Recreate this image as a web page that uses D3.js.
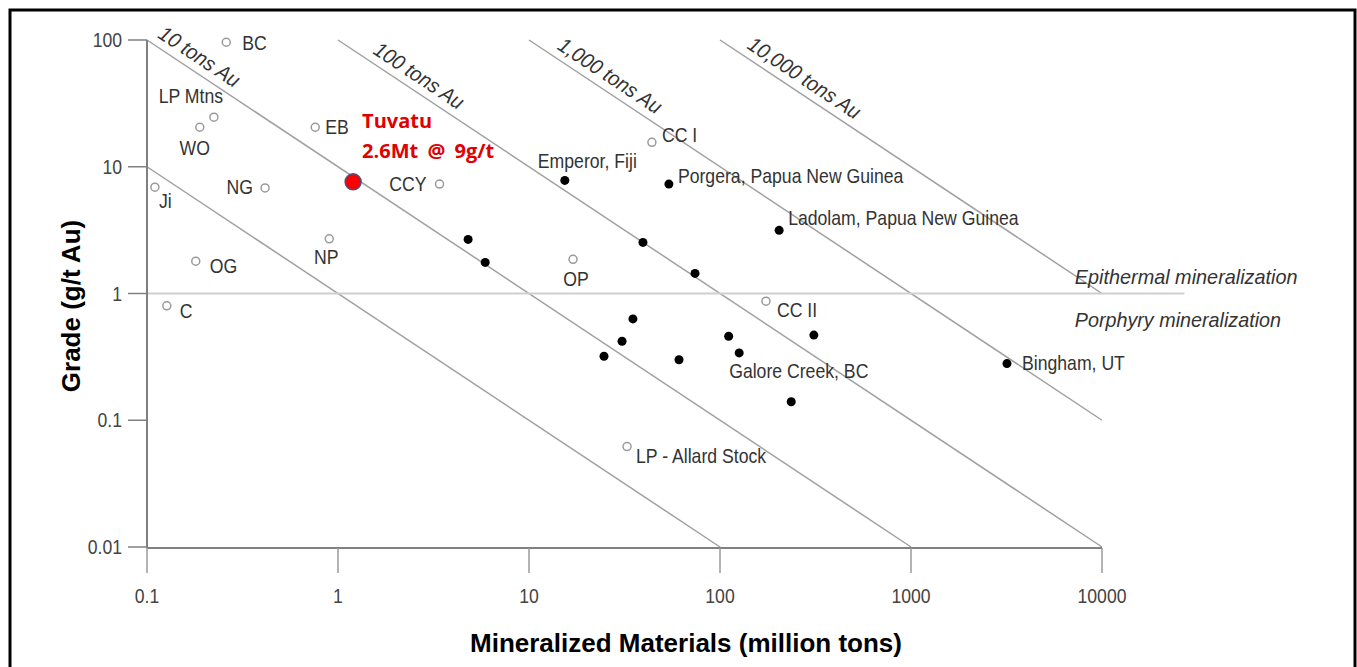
<!DOCTYPE html>
<html>
<head>
<meta charset="utf-8">
<script src="https://cdn.jsdelivr.net/npm/d3@7"></script>
<style>
  html, body { margin: 0; background: #fff; }
  svg { display: block; }
</style>
</head>
<body>
<svg id="chart" width="1357" height="667"></svg>
<script>
// ── Datos ────────────────────────────────────────────────────────
const X_TICKS = [0.1, 1, 10, 100, 1000, 10000];
const Y_TICKS = [0.01, 0.1, 1, 10, 100];

// contained gold = tonnage (Mt) x grade (g/t)
const CONTOURS       = [1, 10, 100, 1000, 10000];
const CONTOUR_LABELS = ["", "10 tons Au", "100 tons Au", "1,000 tons Au", "10,000 tons Au"];
const CONTOUR_LBL_MT = [null, 0.17, 2.4, 24, 250];

const DIVIDER_GRADE = 1;
const DIVIDER_MT    = [0.1, 27000];

const OPEN_DEPOSITS = [
  { name: "BC",               mt: 0.26,  grade: 96 },
  { name: "LP Mtns",          mt: 0.224, grade: 24.6 },
  { name: "WO",               mt: 0.189, grade: 20.5 },
  { name: "EB",               mt: 0.76,  grade: 20.5 },
  { name: "NG",               mt: 0.415, grade: 6.8 },
  { name: "Ji",               mt: 0.11,  grade: 6.9 },
  { name: "CCY",              mt: 3.4,   grade: 7.3 },
  { name: "NP",               mt: 0.9,   grade: 2.7 },
  { name: "OG",               mt: 0.18,  grade: 1.8 },
  { name: "C",                mt: 0.127, grade: 0.8 },
  { name: "CC I",             mt: 44,    grade: 15.6 },
  { name: "OP",               mt: 17,    grade: 1.86 },
  { name: "CC II",            mt: 174,   grade: 0.87 },
  { name: "LP - Allard Stock", mt: 32.6, grade: 0.062 }
];

const FILLED_DEPOSITS = [
  { name: "Emperor, Fiji",             mt: 15.4, grade: 7.8 },
  { name: "Porgera, Papua New Guinea", mt: 54,   grade: 7.3 },
  { name: "Ladolam, Papua New Guinea", mt: 204,  grade: 3.15 },
  { name: "",                          mt: 4.8,  grade: 2.67 },
  { name: "",                          mt: 5.9,  grade: 1.76 },
  { name: "",                          mt: 39.5, grade: 2.53 },
  { name: "",                          mt: 74,   grade: 1.44 },
  { name: "",                          mt: 35,   grade: 0.63 },
  { name: "",                          mt: 30.7, grade: 0.42 },
  { name: "",                          mt: 24.7, grade: 0.32 },
  { name: "",                          mt: 61,   grade: 0.30 },
  { name: "",                          mt: 111,  grade: 0.46 },
  { name: "Galore Creek, BC",          mt: 126,  grade: 0.34 },
  { name: "",                          mt: 310,  grade: 0.47 },
  { name: "",                          mt: 236,  grade: 0.14 },
  { name: "Bingham, UT",               mt: 3180, grade: 0.28 }
];

const TUVATU = { mt: 1.2, grade: 7.6, lines: ["Tuvatu", "2.6Mt @ 9g/t"] };

// ── Estilo de etiquetas (dx, dy, anchor) ─────────────────────────
const LABEL_POS = {
  "BC": [16, 8, "start"],
  "LP Mtns": [-23, -14, "middle"],
  "WO": [-5, 28, "middle"],
  "EB": [10, 7, "start"],
  "NG": [-12, 6, "end"],
  "Ji": [4, 21, "start"],
  "CCY": [-13, 7, "end"],
  "NP": [-3, 25, "middle"],
  "OG": [14, 12, "start"],
  "C": [13, 12, "start"],
  "CC I": [10, 0, "start"],
  "OP": [3, 27, "middle"],
  "CC II": [11, 16, "start"],
  "LP - Allard Stock": [9, 16, "start"],
  "Emperor, Fiji": [-27, -12, "start"],
  "Porgera, Papua New Guinea": [9, -1, "start"],
  "Ladolam, Papua New Guinea": [9, -5, "start"],
  "Galore Creek, BC": [-10, 25, "start"],
  "Bingham, UT": [15, 6, "start"]
};

const LBL_FONT  = "'Liberation Sans',Arial,sans-serif";
const BOLD_FONT = "'Liberation Sans',Arial,sans-serif";

// squeeze text horizontally (the source uses a condensed face)
function squeeze(sel, k) {
  sel.each(function() {
    const w = this.getComputedTextLength();
    d3.select(this).attr("textLength", w * k).attr("lengthAdjust", "spacingAndGlyphs");
  });
}

// ── Escalas ──────────────────────────────────────────────────────
const svg = d3.select("#chart");
const x = d3.scaleLog().domain([0.1, 10000]).range([147, 1102]);
const y = d3.scaleLog().domain([0.01, 100]).range([547, 40]);

// marco
svg.append("rect")
  .attr("x", 10).attr("y", 10).attr("width", 1345).attr("height", 700)
  .attr("fill", "none").attr("stroke", "#000").attr("stroke-width", 3);

// ── Líneas de contenido de oro ───────────────────────────────────
CONTOURS.forEach((t, i) => {
  // clip the line x*y = t to the plot box
  const x0 = Math.max(0.1, t / 100);
  const x1 = Math.min(10000, t / 0.01);
  svg.append("line")
    .attr("x1", x(x0)).attr("y1", y(t / x0))
    .attr("x2", x(x1)).attr("y2", y(t / x1))
    .attr("stroke", "#a0a0a0").attr("stroke-width", 1.5);

  if (CONTOUR_LABELS[i]) {
    const m = CONTOUR_LBL_MT[i];
    const px = x(m), py = y(t / m);
    const ang = Math.atan2(y(t / 10) - y(t), x(10) - x(1)) * 180 / Math.PI;
    const rad = ang * Math.PI / 180;
    const d = 8;
    svg.append("text")
      .attr("transform", `translate(${px + d * Math.sin(rad)},${py - d * Math.cos(rad)}) rotate(${ang})`)
      .attr("text-anchor", "middle")
      .attr("font-family", LBL_FONT).attr("font-style", "italic")
      .attr("font-size", 21).attr("fill", "#333")
      .text(CONTOUR_LABELS[i])
      .call(squeeze, 0.93);
  }
});

// línea epitermal / pórfido
svg.append("line")
  .attr("x1", x(DIVIDER_MT[0])).attr("x2", x(DIVIDER_MT[1]))
  .attr("y1", y(DIVIDER_GRADE)).attr("y2", y(DIVIDER_GRADE))
  .attr("stroke", "#cfcfcf").attr("stroke-width", 2);

svg.append("text")
  .attr("x", x(7200)).attr("y", y(DIVIDER_GRADE) - 10)
  .attr("font-family", LBL_FONT).attr("font-style", "italic")
  .attr("font-size", 21).attr("fill", "#333")
  .text("Epithermal mineralization")
  .call(squeeze, 0.945);
svg.append("text")
  .attr("x", x(7200)).attr("y", y(DIVIDER_GRADE) + 33)
  .attr("font-family", LBL_FONT).attr("font-style", "italic")
  .attr("font-size", 21).attr("fill", "#333")
  .text("Porphyry mineralization")
  .call(squeeze, 0.94);

// ── Ejes ─────────────────────────────────────────────────────────
svg.append("line")
  .attr("x1", x(0.1)).attr("x2", x(0.1)).attr("y1", y(100)).attr("y2", 548)
  .attr("stroke", "#808080").attr("stroke-width", 2);
svg.append("line")
  .attr("x1", x(0.1)).attr("x2", x(10000)).attr("y1", 548).attr("y2", 548)
  .attr("stroke", "#808080").attr("stroke-width", 2);

Y_TICKS.forEach(v => {
  svg.append("line")
    .attr("x1", x(0.1) - 19).attr("x2", x(0.1)).attr("y1", y(v)).attr("y2", y(v))
    .attr("stroke", "#808080").attr("stroke-width", 1.5);
  svg.append("text")
    .attr("x", x(0.1) - 25).attr("y", y(v)).attr("dy", "0.36em")
    .attr("text-anchor", "end")
    .attr("font-family", LBL_FONT).attr("font-size", 20).attr("fill", "#444")
    .text(d3.format("~g")(v))
    .call(squeeze, 0.88);
});

X_TICKS.forEach(v => {
  svg.append("line")
    .attr("x1", x(v)).attr("x2", x(v)).attr("y1", 548).attr("y2", 573)
    .attr("stroke", "#9a9a9a").attr("stroke-width", 1.5);
  svg.append("text")
    .attr("x", x(v)).attr("y", 603)
    .attr("text-anchor", "middle")
    .attr("font-family", LBL_FONT).attr("font-size", 20).attr("fill", "#444")
    .text(d3.format("~g")(v))
    .call(squeeze, 0.88);
});

svg.append("text")
  .attr("x", 686).attr("y", 652)
  .attr("text-anchor", "middle")
  .attr("font-family", BOLD_FONT).attr("font-weight", "bold").attr("font-size", 26)
  .attr("fill", "#000")
  .text("Mineralized Materials (million tons)");

svg.append("text")
  .attr("transform", "translate(80,306) rotate(-90)")
  .attr("text-anchor", "middle")
  .attr("font-family", BOLD_FONT).attr("font-weight", "bold").attr("font-size", 26)
  .attr("fill", "#000")
  .text("Grade (g/t Au)");

// ── Depósitos ────────────────────────────────────────────────────
svg.append("g").selectAll("circle")
  .data(OPEN_DEPOSITS).join("circle")
  .attr("cx", d => x(d.mt)).attr("cy", d => y(d.grade)).attr("r", 4)
  .attr("fill", "#fff").attr("stroke", "#9a9a9a").attr("stroke-width", 1.5);

svg.append("g").selectAll("circle")
  .data(FILLED_DEPOSITS).join("circle")
  .attr("cx", d => x(d.mt)).attr("cy", d => y(d.grade)).attr("r", 4.5)
  .attr("fill", "#000");

svg.append("g").selectAll("text")
  .data(OPEN_DEPOSITS.concat(FILLED_DEPOSITS).filter(d => d.name))
  .join("text")
  .attr("x", d => x(d.mt) + LABEL_POS[d.name][0])
  .attr("y", d => y(d.grade) + LABEL_POS[d.name][1])
  .attr("text-anchor", d => LABEL_POS[d.name][2])
  .attr("font-family", LBL_FONT).attr("font-size", 21).attr("fill", "#333")
  .text(d => d.name)
  .call(squeeze, 0.84);

// Tuvatu
svg.append("circle")
  .attr("cx", x(TUVATU.mt)).attr("cy", y(TUVATU.grade)).attr("r", 8)
  .attr("fill", "#ff0000").attr("stroke", "#4a4f86").attr("stroke-width", 1.5);

TUVATU.lines.forEach((s, i) => {
  svg.append("text")
    .attr("x", x(TUVATU.mt) + 9).attr("y", y(TUVATU.grade) - 54 + i * 30)
    .attr("font-family", "'Open Sans',sans-serif").attr("font-weight", "bold")
    .attr("font-size", 20).attr("word-spacing", 4).attr("fill", "#e00000")
    .text(s);
});
</script>
</body>
</html>
